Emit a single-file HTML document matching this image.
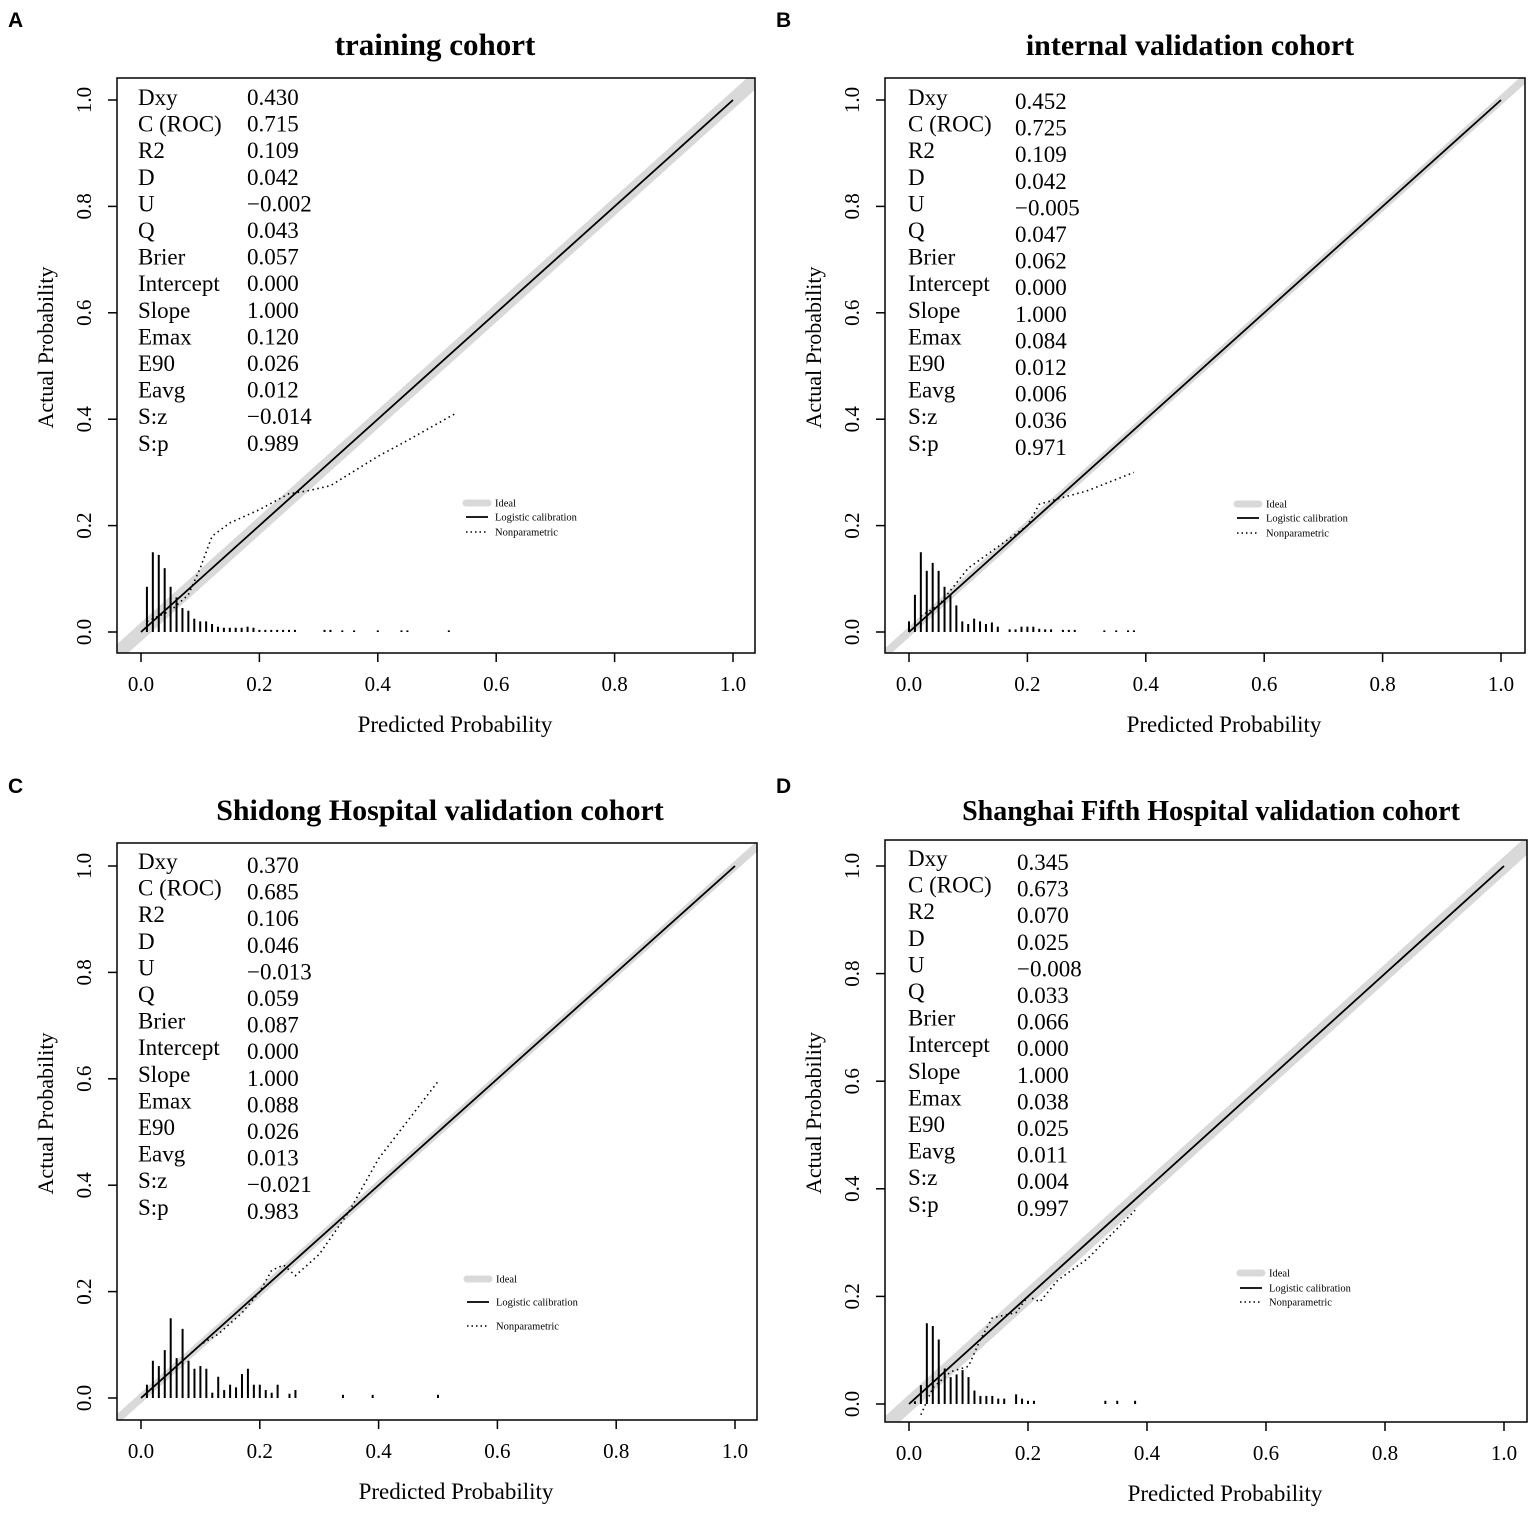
<!DOCTYPE html>
<html><head><meta charset="utf-8"><style>
body{margin:0;background:#fff;}
svg{display:block;font-family:"Liberation Serif",serif;}
</style></head><body>
<svg id="s" width="1535" height="1513" viewBox="0 0 1535 1513"></svg>
<script>
const statNames=["Dxy","C (ROC)","R2","D","U","Q","Brier","Intercept","Slope","Emax","E90","Eavg","S:z","S:p"];
const statsA=["0.430","0.715","0.109","0.042","\u22120.002","0.043","0.057","0.000","1.000","0.120","0.026","0.012","\u22120.014","0.989"];
const statsB=["0.452","0.725","0.109","0.042","\u22120.005","0.047","0.062","0.000","1.000","0.084","0.012","0.006","0.036","0.971"];
const statsC=["0.370","0.685","0.106","0.046","\u22120.013","0.059","0.087","0.000","1.000","0.088","0.026","0.013","\u22120.021","0.983"];
const statsD=["0.345","0.673","0.070","0.025","\u22120.008","0.033","0.066","0.000","1.000","0.038","0.025","0.011","0.004","0.997"];
const tickLabels=["0.0","0.2","0.4","0.6","0.8","1.0"];
const tickVals=[0,0.2,0.4,0.6,0.8,1.0];
const histXA=[0.01,0.02,0.03,0.04,0.05,0.06,0.07,0.08,0.09,0.10,0.11,0.12,0.13,0.14,0.15,0.16,0.17,0.18,0.19,0.20,0.21,0.22,0.23,0.24,0.25,0.26,0.31,0.32,0.34,0.36,0.40,0.44,0.45,0.52];
const histHA=[0.085,0.15,0.145,0.12,0.085,0.065,0.045,0.04,0.025,0.02,0.02,0.015,0.01,0.008,0.008,0.008,0.008,0.01,0.008,0.004,0.004,0.004,0.004,0.004,0.004,0.004,0.004,0.004,0.003,0.003,0.003,0.003,0.003,0.003];
const histXB=[0.0,0.01,0.02,0.03,0.04,0.05,0.06,0.07,0.08,0.09,0.10,0.11,0.12,0.13,0.14,0.15,0.17,0.18,0.19,0.20,0.21,0.22,0.23,0.24,0.26,0.27,0.28,0.33,0.35,0.37,0.38];
const histHB=[0.02,0.07,0.15,0.115,0.13,0.115,0.085,0.07,0.05,0.02,0.015,0.025,0.02,0.015,0.018,0.01,0.005,0.005,0.01,0.01,0.01,0.006,0.005,0.005,0.004,0.004,0.004,0.003,0.003,0.003,0.003];
const histXC=[0.01,0.02,0.03,0.04,0.05,0.06,0.07,0.08,0.09,0.10,0.11,0.12,0.13,0.14,0.15,0.16,0.17,0.18,0.19,0.20,0.21,0.22,0.23,0.25,0.26,0.34,0.39,0.50];
const histHC=[0.025,0.07,0.06,0.09,0.15,0.075,0.13,0.07,0.055,0.06,0.055,0.01,0.04,0.015,0.025,0.02,0.045,0.055,0.025,0.025,0.015,0.01,0.025,0.008,0.015,0.006,0.006,0.006];
const histXD=[0.01,0.02,0.03,0.04,0.05,0.06,0.07,0.08,0.09,0.10,0.11,0.12,0.13,0.14,0.15,0.16,0.18,0.19,0.20,0.21,0.33,0.35,0.38];
const histHD=[0.005,0.035,0.15,0.145,0.12,0.066,0.05,0.055,0.063,0.05,0.025,0.015,0.015,0.015,0.01,0.01,0.018,0.01,0.006,0.006,0.006,0.006,0.006];
const npXA=[0.01,0.05,0.08,0.10,0.12,0.15,0.20,0.25,0.28,0.32,0.40,0.45,0.53];
const npYA=[0.02,0.04,0.07,0.12,0.18,0.205,0.23,0.26,0.265,0.275,0.33,0.36,0.41];
const npXB=[0.02,0.05,0.10,0.15,0.20,0.22,0.25,0.30,0.38];
const npYB=[0.03,0.05,0.12,0.16,0.20,0.24,0.25,0.265,0.30];
const npXC=[0.01,0.05,0.10,0.13,0.17,0.20,0.22,0.24,0.26,0.30,0.35,0.40,0.50];
const npYC=[0.01,0.05,0.10,0.12,0.16,0.20,0.24,0.25,0.23,0.27,0.35,0.45,0.595];
const npXD=[0.02,0.04,0.07,0.10,0.12,0.14,0.18,0.20,0.22,0.25,0.30,0.38];
const npYD=[-0.02,0.03,0.06,0.07,0.12,0.16,0.17,0.20,0.19,0.23,0.27,0.36];

const panels=[
 {id:"a",letter:"A",lx:8,ly:27,title:"training cohort",tfs:31,tx:435,ty:55,fl:117,ft:78,fr:755,fb:653,x0:141,x1:733,y0:632,y1:100,stats:statsA,sx1:138,sx2:247,sy:105,soff:0,hx:histXA,hh:histHA,nx:npXA,ny:npYA,band:14,lgx:466,lgy:[503,517,532]},
 {id:"b",letter:"B",lx:776,ly:27,title:"internal validation cohort",tfs:30,tx:1190,ty:55,fl:885,ft:78,fr:1525,fb:653,x0:909,x1:1501,y0:632,y1:100,stats:statsB,sx1:908,sx2:1015,sy:109,soff:-4,hx:histXB,hh:histHB,nx:npXB,ny:npYB,band:8,lgx:1237,lgy:[504,518,533]},
 {id:"c",letter:"C",lx:8,ly:793,title:"Shidong Hospital validation cohort",tfs:30,tx:440,ty:820,fl:117,ft:843,fr:757,fb:1420,x0:141,x1:735,y0:1398,y1:866,stats:statsC,sx1:138,sx2:247,sy:873,soff:-4,hx:histXC,hh:histHC,nx:npXC,ny:npYC,band:8,lgx:467,lgy:[1279,1302,1326]},
 {id:"d",letter:"D",lx:776,ly:793,title:"Shanghai Fifth Hospital validation cohort",tfs:28,tx:1211,ty:820,fl:885,ft:840,fr:1527,fb:1422,x0:909,x1:1504,y0:1404,y1:866,stats:statsD,sx1:908,sx2:1017,sy:870,soff:-4,hx:histXD,hh:histHD,nx:npXD,ny:npYD,band:14,lgx:1240,lgy:[1273,1288,1302]}
];
const NS="http://www.w3.org/2000/svg";
const svg=document.getElementById("s");
function mk(tag,attrs,parent,txt){const e=document.createElementNS(NS,tag);for(const k in attrs)e.setAttribute(k,attrs[k]);if(txt!==undefined)e.textContent=txt;parent.appendChild(e);return e;}
panels.forEach(p=>{
 const X=v=>p.x0+v*(p.x1-p.x0), Y=v=>p.y0+v*(p.y1-p.y0);
 const g=mk("g",{},svg);
 
 
 const L=mk("text",{x:p.lx,y:p.ly,"font-family":"Liberation Sans,sans-serif","font-weight":"bold","font-size":"21"},g,p.letter);
 
 
 const T=mk("text",{x:p.tx,y:p.ty,"text-anchor":"middle","font-weight":"bold","font-size":p.tfs},g,p.title);
 
 
 const cid="clip"+p.id;
 const cp=mk("clipPath",{id:cid},g);mk("rect",{x:p.fl,y:p.ft,width:p.fr-p.fl,height:p.fb-p.ft},cp);
 const plot=mk("g",{"clip-path":"url(#"+cid+")"},g);
 const band=mk("line",{x1:X(-0.1),y1:Y(-0.1),x2:X(1.1),y2:Y(1.1),stroke:"#d9d9d9","stroke-width":p.band},plot);
 
 
 const lg=mk("line",{x1:X(0),y1:Y(0),x2:X(1),y2:Y(1),stroke:"#000","stroke-width":1.8},plot);
 
 
 p.hx.forEach((v,i)=>{
  const b=mk("line",{x1:X(v),x2:X(v),y1:Y(0),y2:Y(p.hh[i]),stroke:"#000","stroke-width":2},plot);
  
  
 });
 const np=mk("polyline",{points:p.nx.map((v,i)=>X(v)+","+Y(p.ny[i])).join(" "),fill:"none",stroke:"#000","stroke-width":1.6,"stroke-dasharray":"1.5 3.5"},plot);
 
 
 const fr=mk("rect",{x:p.fl,y:p.ft,width:p.fr-p.fl,height:p.fb-p.ft,fill:"none",stroke:"#000","stroke-width":1.5},g);
 
 
 tickVals.forEach((v,i)=>{
  mk("line",{x1:X(v),x2:X(v),y1:p.fb,y2:p.fb+9,stroke:"#000","stroke-width":1.5},g);
  const xt=mk("text",{x:X(v),y:p.fb+38,"text-anchor":"middle","font-size":"21"},g,tickLabels[i]);
  
  
  mk("line",{x1:p.fl-9,x2:p.fl,y1:Y(v),y2:Y(v),stroke:"#000","stroke-width":1.5},g);
  const yt=mk("text",{x:p.fl-26,y:Y(v),"text-anchor":"middle","font-size":"21",transform:"rotate(-90 "+(p.fl-26)+" "+Y(v)+")"},g,tickLabels[i]);
  
  
 });
 const xa=mk("text",{x:(p.fl+p.fr)/2+19,y:p.fb+79,"text-anchor":"middle","font-size":"23"},g,"Predicted Probability");
 
 
 const ym=(p.ft+p.fb)/2-18;
 const ya=mk("text",{x:p.fl-64,y:ym,"text-anchor":"middle","font-size":"22",transform:"rotate(-90 "+(p.fl-64)+" "+ym+")"},g,"Actual Probability");
 
 
 statNames.forEach((n,i)=>{
  const y=p.sy+i*26.6;
  const a=mk("text",{x:p.sx1,y:y+p.soff,"font-size":"23"},g,n);
  
  
  const b=mk("text",{x:p.sx2,y:y,"font-size":"23"},g,p.stats[i]);
  
  
 });
 const names=["Ideal","Logistic calibration","Nonparametric"];
 const lgd=mk("g",{},g);
 
 
 p.lgy.forEach((y,i)=>{
  const st=i==0?{stroke:"#d9d9d9","stroke-width":7,"stroke-linecap":"round"}:i==1?{stroke:"#000","stroke-width":1.8}:{stroke:"#000","stroke-width":1.5,"stroke-dasharray":"1.5 3"};
  mk("line",Object.assign({x1:p.lgx,x2:p.lgx+22,y1:y,y2:y},st),lgd);
  const t=mk("text",{x:p.lgx+29,y:y+3.5,"font-size":"10.5"},lgd,names[i]);
  
  
 });
});
</script>
</body></html>
